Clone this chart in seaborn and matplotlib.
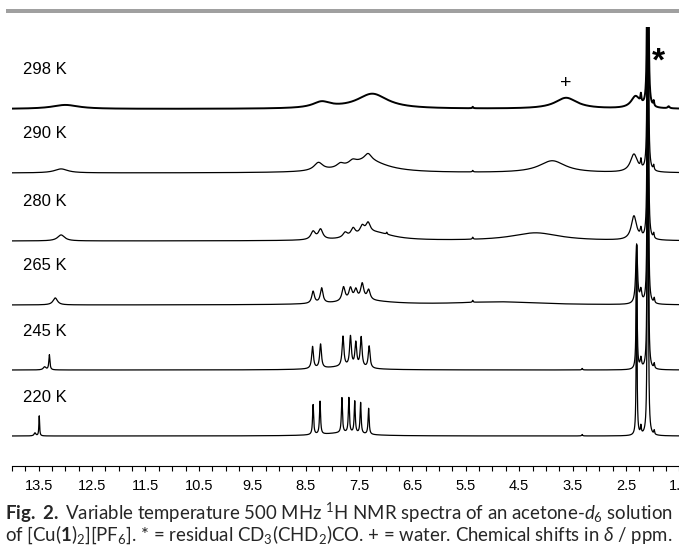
import numpy as np
import pandas as pd
import matplotlib
matplotlib.use("Agg")
import matplotlib.pyplot as plt
import seaborn as sns
from matplotlib.patches import Rectangle
from matplotlib.ticker import FixedLocator, MultipleLocator

# ---------------- data ----------------
temps = ["298 K", "290 K", "280 K", "265 K", "245 K", "220 K"]
offsets = [357, 293, 225, 161, 96, 30]          # vertical stacking offset of each trace

# peak lists: position (ppm), height, half-width (ppm)
pos_298 = [13.0, 8.2, 7.25, 5.37, 3.62, 2.32, 2.22, 2.09, 1.98, 1.70]
hgt_298 = [4, 6, 15, 1.5, 11, 12, 8, 2000, 5, 2]
wid_298 = [0.3, 0.2, 0.35, 0.01, 0.25, 0.1, 0.01, 0.004, 0.01, 0.02]

pos_290 = [13.08, 8.26, 7.85, 7.62, 7.35, 7.33, 5.37, 3.88, 2.35, 2.22, 2.09, 1.98]
hgt_290 = [4, 8, 4, 4, 12, 7, 1.5, 12, 18, 8, 2000, 5]
wid_290 = [0.15, 0.1, 0.08, 0.08, 0.45, 0.08, 0.01, 0.3, 0.08, 0.01, 0.004, 0.01]

pos_280 = [13.08, 8.36, 8.22, 7.76, 7.61, 7.44, 7.33, 7.2, 6.98, 5.37, 4.19, 2.35, 2.22, 2.09, 1.98]
hgt_280 = [6, 8, 10, 5, 8, 8, 10, 8, 2, 2, 8, 24, 8, 2000, 5]
wid_280 = [0.08, 0.05, 0.05, 0.05, 0.05, 0.05, 0.05, 0.4, 0.01, 0.01, 0.55, 0.06, 0.015, 0.004, 0.01]

pos_265 = [13.19, 8.36, 8.20, 7.79, 7.66, 7.56, 7.44, 7.32, 7.4, 5.37, 4.9, 2.30, 2.22, 2.09, 1.97]
hgt_265 = [7, 12, 15, 14, 12, 10, 16, 10, 4, 2, 3, 58, 12, 2000, 5]
wid_265 = [0.05, 0.03, 0.03, 0.035, 0.035, 0.035, 0.035, 0.035, 0.6, 0.01, 0.9, 0.02, 0.02, 0.004, 0.01]

pos_245 = [13.39, 13.30, 8.37, 8.22, 7.80, 7.66, 7.56, 7.46, 7.31, 7.8, 3.32, 2.30, 2.22, 2.09, 1.97]
hgt_245 = [3, 15, 22, 24, 30, 30, 24, 30, 22, 3, 1.5, 125, 10, 2000, 5]
wid_245 = [0.03, 0.012, 0.02, 0.02, 0.02, 0.02, 0.02, 0.02, 0.02, 0.45, 0.01, 0.01, 0.015, 0.004, 0.01]

pos_220 = [13.57, 13.49, 8.36, 8.23, 7.82, 7.69, 7.58, 7.47, 7.32, 7.8, 3.32, 2.30, 2.22, 2.09, 1.97]
hgt_220 = [3, 20, 30, 33, 35, 35, 32, 31, 26, 3, 1.5, 190, 8, 2000, 4]
wid_220 = [0.02, 0.008, 0.012, 0.012, 0.012, 0.012, 0.012, 0.012, 0.012, 0.45, 0.01, 0.008, 0.01, 0.004, 0.008]

peaks = [(pos_298, hgt_298, wid_298), (pos_290, hgt_290, wid_290),
         (pos_280, hgt_280, wid_280), (pos_265, hgt_265, wid_265),
         (pos_245, hgt_245, wid_245), (pos_220, hgt_220, wid_220)]
line_w = [1.4, 0.9, 0.9, 0.9, 0.9, 0.9]

tick_labels = ["13.5", "12.5", "11.5", "10.5", "9.5", "8.5", "7.5",
               "6.5", "5.5", "4.5", "3.5", "2.5", "1.5"]

caption1 = r"$\mathbf{Fig.\ 2.}$ Variable temperature 500 MHz $^{1}$H NMR spectra of an acetone-$d_{6}$ solution"
caption2 = (r"of [Cu($\mathbf{1}$)$_{2}$][PF$_{6}$]. * = residual CD$_{3}$(CHD$_{2}$)CO. "
            r"+ = water. Chemical shifts in $\delta$ / ppm.")

# ---------------- figure ----------------
sns.set_theme(style="white")
plt.rcParams["font.family"] = ["Liberation Sans", "DejaVu Sans"]
plt.rcParams["mathtext.fontset"] = "custom"
plt.rcParams["mathtext.rm"] = "Lato"
plt.rcParams["mathtext.it"] = "Lato:italic"
plt.rcParams["mathtext.bf"] = "Lato:bold"
plt.rcParams["mathtext.sf"] = "Lato"

W, H = 679, 554
fig = plt.figure(figsize=(W / 100, H / 100), dpi=100)
fig.patch.set_facecolor("white")

ax_left, ax_right, ax_top, ax_bot = 12, 706, 27, 466
ax = fig.add_axes([ax_left / W, (H - ax_bot) / H, (ax_right - ax_left) / W, (ax_bot - ax_top) / H])
ax.set_facecolor("white")

ppm = np.linspace(14.0, 1.0, 26001)
for t, off, (p, h, w), lw in zip(temps, offsets, peaks, line_w):
    y = np.full_like(ppm, float(off))
    for pi, hi, wi in zip(p, h, w):
        y += hi / (1.0 + ((ppm - pi) / wi) ** 2)
    df = pd.DataFrame({"ppm": ppm, "I": y})
    sns.lineplot(data=df, x="ppm", y="I", ax=ax, color="black", linewidth=lw,
                 estimator=None, sort=False)
    ax.text(13.79, off + 39, t, fontsize=12, ha="left", va="center",
            family=["Liberation Sans", "DejaVu Sans"], color="black")

ax.text(3.62, offsets[0] + 25, "+", fontsize=14, ha="center", va="center", color="black")
ax.text(1.90, 404, "*", fontsize=24, fontweight="bold", ha="center", va="center", color="black")

ax.set_xlim(14.0, 1.0)
ax.set_ylim(0, ax_bot - ax_top)
ax.set_xlabel("")
ax.set_ylabel("")
ax.set_yticks([])
ax.xaxis.set_major_locator(FixedLocator([float(s) for s in tick_labels]))
ax.set_xticklabels(tick_labels)
ax.xaxis.set_minor_locator(MultipleLocator(0.25))
ax.tick_params(axis="x", which="both", direction="out", length=3.5, width=0.8,
               color="black", bottom=True)
ax.tick_params(axis="x", which="major", pad=6, labelsize=10.5, labelcolor="black")
for s in ["left", "top", "right"]:
    ax.spines[s].set_visible(False)
ax.spines["bottom"].set_color("black")
ax.spines["bottom"].set_linewidth(0.8)

# grey header bar
fig.add_artist(Rectangle((6 / W, 1 - 13 / H), (W - 6) / W, 4 / H, transform=fig.transFigure,
                         facecolor="#a0a0a0", edgecolor="none"))

# caption
t1 = fig.text(5 / W, 1 - 513 / H, caption1, fontsize=11, family="Lato", ha="left", va="center")
t2 = fig.text(5 / W, 1 - 535 / H, caption2, fontsize=11, family="Lato", ha="left", va="center")
fig.canvas.draw()
wpx = t1.get_window_extent().width
fs = 11 * 668 / wpx
t1.set_fontsize(fs)
t2.set_fontsize(fs)

fig.savefig("out.png", dpi=100, facecolor="white")
